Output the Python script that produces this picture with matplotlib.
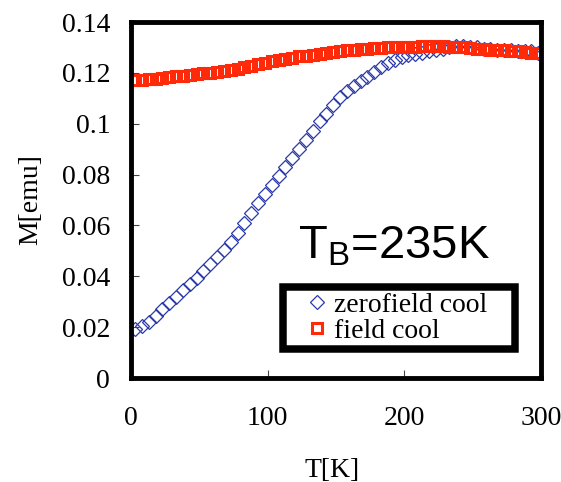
import matplotlib
matplotlib.use("Agg")
import matplotlib.pyplot as plt

plt.rcParams['font.family'] = ['Liberation Serif', 'DejaVu Serif']
plt.rcParams['mathtext.fontset'] = 'custom'
plt.rcParams['mathtext.rm'] = 'Liberation Sans'
plt.rcParams['mathtext.it'] = 'Liberation Sans:italic'

# zero field cooled
t_zfc = [3, 8, 13, 18, 23, 28, 33, 38, 43, 48, 53, 58, 63, 68, 73, 78, 83, 88, 93, 98,
         103, 108, 113, 118, 123, 128, 133, 138, 143, 148, 153, 158, 163, 168, 173, 178,
         183, 188, 193, 198, 203, 208, 213, 218, 223, 228, 233, 238, 243, 248, 253, 258,
         263, 268, 273, 278, 283, 288, 293, 298]
m_zfc = [0.0193, 0.0205, 0.0222, 0.0245, 0.0270, 0.0293, 0.0318, 0.0345, 0.0370, 0.0395,
         0.0420, 0.0447, 0.0474, 0.0503, 0.0535, 0.0570, 0.0610, 0.0650, 0.0690, 0.0725,
         0.0760, 0.0795, 0.0830, 0.0865, 0.0900, 0.0935, 0.0970, 0.1010, 0.1040, 0.1075,
         0.1105, 0.1130, 0.1150, 0.1168, 0.1185, 0.1205, 0.1222, 0.1238, 0.1250, 0.1262,
         0.1270, 0.1275, 0.1280, 0.1285, 0.1290, 0.1295, 0.1300, 0.1305, 0.1305, 0.1300,
         0.1300, 0.1295, 0.1295, 0.1290, 0.1290, 0.1290, 0.1285, 0.1285, 0.1285, 0.1280]

# field cooled
t_fc = [3, 8, 13, 18, 23, 28, 33, 38, 43, 48, 53, 58, 63, 68, 73, 78, 83, 88, 93, 98,
        103, 108, 113, 118, 123, 128, 133, 138, 143, 148, 153, 158, 163, 168, 173, 178,
        183, 188, 193, 198, 203, 208, 213, 218, 223, 228, 233, 238, 243, 248, 253, 258,
        263, 268, 273, 278, 283, 288, 293, 298]
m_fc = [0.1172, 0.1173, 0.1174, 0.1176, 0.1178, 0.1182, 0.1186, 0.1189, 0.1192, 0.1195,
        0.1198, 0.1200, 0.1203, 0.1208, 0.1212, 0.1216, 0.1222, 0.1228, 0.1235, 0.1240,
        0.1245, 0.1250, 0.1255, 0.1260, 0.1265, 0.1268, 0.1272, 0.1276, 0.1280, 0.1283,
        0.1285, 0.1288, 0.1290, 0.1292, 0.1294, 0.1296, 0.1298, 0.1300, 0.1301, 0.1302,
        0.1303, 0.1303, 0.1304, 0.1304, 0.1304, 0.1304, 0.1303, 0.1303, 0.1302, 0.1298,
        0.1295, 0.1292, 0.1290, 0.1289, 0.1288, 0.1286, 0.1284, 0.1281, 0.1279, 0.1277]

xticks = [0, 100, 200, 300]
xtick_labels = ['0', '100', '200', '300']
yticks = [0, 0.02, 0.04, 0.06, 0.08, 0.1, 0.12, 0.14]
ytick_labels = ['0', '0.02', '0.04', '0.06', '0.08', '0.1', '0.12', '0.14']

fig = plt.figure(figsize=(5.61, 4.82), dpi=100)
ax = fig.add_axes([131/561, 104/482, 410/561, 356/482])

ax.plot(t_zfc, m_zfc, linestyle='none', marker='D', ms=6.8, mfc='none',
        mec='#2a3aa8', mew=0.9, label='zerofield cool')
ax.plot(t_fc, m_fc, linestyle='none', marker='s', ms=6.5, mfc='none',
        mec='#ff2a0a', mew=2.2, label='field cool')

ax.set_xlim(0, 300)
ax.set_ylim(0, 0.14)
ax.set_xticks(xticks)
ax.set_xticklabels(xtick_labels)
ax.set_yticks(yticks)
ax.set_yticklabels(ytick_labels)
ax.tick_params(axis='both', direction='in', length=6, width=0.8, color='#444444',
               labelsize=20)
ax.tick_params(axis='x', pad=20)
ax.tick_params(axis='y', pad=15)

for s in ax.spines.values():
    s.set_linewidth(3.5)

ax.set_ylabel('M[emu]', fontsize=20)
ax.yaxis.set_label_coords(-0.215, 0.5)
ax.set_xlabel('T[K]', fontsize=20)
ax.xaxis.set_label_coords(0.49, -0.225)

ax.text(0.407, 0.337, r'T$_\mathrm{B}$=235K', transform=ax.transAxes,
        fontsize=34, family='Liberation Sans', va='baseline', ha='left')

leg = ax.legend(loc='lower left', bbox_to_anchor=(0.371, 0.081, 0.566, 0.17),
                mode='expand', borderaxespad=0, fancybox=False, framealpha=1,
                edgecolor='black', borderpad=0.2, labelspacing=0.0,
                handlelength=2.05, handletextpad=-0.4, numpoints=1,
                prop={'family': 'Liberation Serif', 'size': 20})
leg.get_frame().set_linewidth(5.4)

fig.savefig('out.png', dpi=100)
